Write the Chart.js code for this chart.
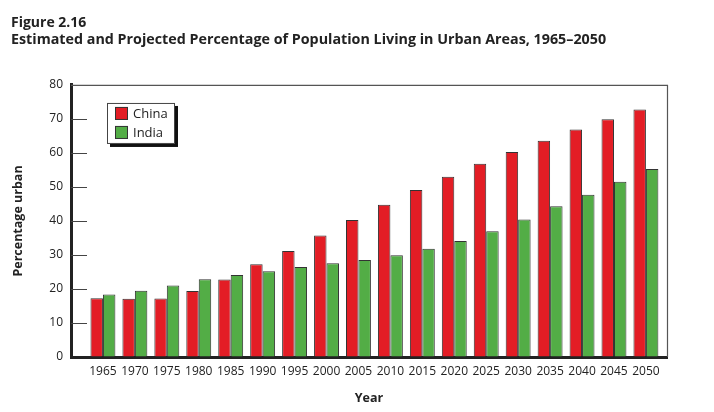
<!DOCTYPE html>
<html>
<head>
<meta charset="utf-8">
<title>Figure 2.16</title>
<script src="https://cdn.jsdelivr.net/npm/chart.js"></script>
<style>
  html, body { margin: 0; padding: 0; background: #fff; }
  #wrap { width: 714px; height: 412px; }
</style>
</head>
<body>
<div id="wrap"><canvas id="chart" width="714" height="412"></canvas></div>
<script>
  // values (percent urban)
  const years = [1965, 1970, 1975, 1980, 1985, 1990, 1995, 2000, 2005, 2010, 2015, 2020, 2025, 2030, 2035, 2040, 2045, 2050];
  const china = [17.3, 17.1, 17.2, 19.4, 22.8, 27.3, 31.2, 35.7, 40.3, 44.8, 49.1, 53.0, 56.8, 60.3, 63.6, 66.9, 69.9, 72.8];
  const india = [18.4, 19.5, 21.0, 22.9, 24.1, 25.2, 26.5, 27.6, 28.5, 29.9, 31.8, 34.1, 37.0, 40.4, 44.3, 47.7, 51.5, 55.3];
  const seriesNames = ['China', 'India'];
  const yTicks = [0, 10, 20, 30, 40, 50, 60, 70, 80];

  const FONT = '"Open Sans", Roboto, sans-serif';

  // top/right frame lines and the short inward ticks on the y axis
  const frame = {
    id: 'frame',
    beforeDatasetsDraw(chart) {
      const {ctx, chartArea: a, scales: {y}} = chart;
      ctx.save();
      ctx.strokeStyle = '#555';
      ctx.lineWidth = 1.2;
      ctx.beginPath();
      ctx.moveTo(a.left, a.top + 0.5);
      ctx.lineTo(a.right + 0.5, a.top + 0.5);
      ctx.lineTo(a.right + 0.5, a.bottom);
      ctx.stroke();
      ctx.strokeStyle = '#444';
      ctx.lineWidth = 1;
      ctx.beginPath();
      y.ticks.forEach(t => {
        if (t.value === 0 || t.value === 80) return;
        const py = Math.round(y.getPixelForValue(t.value)) + 0.5;
        ctx.moveTo(a.left, py);
        ctx.lineTo(a.left + 16, py);
      });
      ctx.stroke();
      ctx.restore();
    }
  };

  // boxed legend with a drop shadow, inside the plot area
  const boxLegend = {
    id: 'boxLegend',
    afterDatasetsDraw(chart) {
      const {ctx, chartArea: a} = chart;
      const x = a.left + 36, y = a.top + 18, w = 68, h = 41;
      ctx.save();
      ctx.fillStyle = '#111';
      ctx.fillRect(x + 3, y + 3, w, h);
      ctx.fillStyle = '#fff';
      ctx.fillRect(x, y, w, h);
      ctx.strokeStyle = '#444';
      ctx.lineWidth = 1;
      ctx.strokeRect(x + 0.5, y + 0.5, w - 1, h - 1);
      ctx.font = '13px ' + FONT;
      ctx.textBaseline = 'middle';
      chart.data.datasets.forEach((ds, i) => {
        const sy = y + 4 + i * 19;
        ctx.fillStyle = ds.backgroundColor;
        ctx.fillRect(x + 8, sy, 13, 13);
        ctx.strokeStyle = '#333';
        ctx.strokeRect(x + 8.5, sy + 0.5, 12, 12);
        ctx.fillStyle = '#222';
        ctx.fillText(ds.label, x + 26, sy + 7);
      });
      ctx.restore();
    }
  };

  new Chart(document.getElementById('chart'), {
    type: 'bar',
    data: {
      labels: years,
      datasets: [
        { label: seriesNames[0], data: china, backgroundColor: '#e31d25', borderColor: '#333', borderWidth: 1 },
        { label: seriesNames[1], data: india, backgroundColor: '#53ad46', borderColor: '#333', borderWidth: 1 }
      ]
    },
    options: {
      responsive: false,
      animation: false,
      layout: { padding: { left: 11, right: 47, top: 0, bottom: 0 } },
      datasets: { bar: { categoryPercentage: 0.78, barPercentage: 1.0 } },
      plugins: {
        legend: { display: false },
        tooltip: { enabled: false },
        title: {
          display: true, align: 'start', text: 'Figure 2.16', color: '#222',
          font: { family: FONT, size: 14, weight: 'bold' }, padding: { top: 15, bottom: 0 }
        },
        subtitle: {
          display: true, align: 'start', color: '#222',
          text: 'Estimated and Projected Percentage of Population Living in Urban Areas, 1965\u20132050',
          font: { family: FONT, size: 14.3, weight: 'bold' }, padding: { top: 0, bottom: 36 }
        }
      },
      scales: {
        x: {
          type: 'linear', min: 1960, max: 2053.3, offset: false,
          afterBuildTicks: s => { s.ticks = years.map(v => ({ value: v })); },
          afterFit: s => { s.height = 55; },
          grid: { display: false, drawTicks: false, offset: false },
          border: { display: true, color: '#222', width: 3 },
          ticks: {
            autoSkip: false, maxRotation: 0, padding: 7, color: '#222',
            font: { family: FONT, size: 12 },
            callback: v => String(v)
          },
          title: {
            display: true, text: 'Year', color: '#222',
            font: { family: FONT, size: 12.5, weight: 'bold' }, padding: { top: 0, bottom: 6 }
          }
        },
        y: {
          min: 0, max: 80,
          afterBuildTicks: s => { s.ticks = yTicks.map(v => ({ value: v })); },
          afterFit: s => { s.width = 60; },
          grid: { drawOnChartArea: false, drawTicks: false },
          border: { display: true, color: '#222', width: 3 },
          ticks: { padding: 8, color: '#222', font: { family: FONT, size: 12 } },
          title: {
            display: true, text: 'Percentage urban', color: '#222',
            font: { family: FONT, size: 12.5, weight: 'bold' }, padding: { top: 0, bottom: 0 }
          }
        }
      }
    },
    plugins: [frame, boxLegend]
  });
</script>
</body>
</html>
